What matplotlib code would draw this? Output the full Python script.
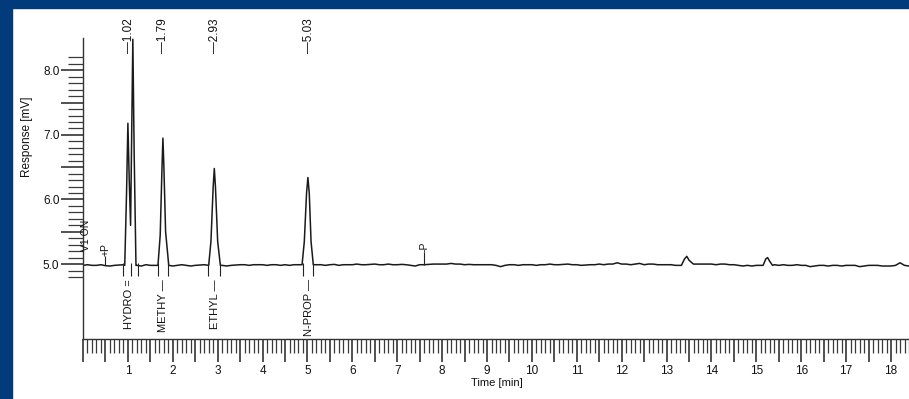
import numpy as np
import matplotlib
matplotlib.use("Agg")
import matplotlib.pyplot as plt
from matplotlib.patches import Rectangle
from matplotlib.ticker import FixedLocator, FuncFormatter

plt.rcParams['font.family'] = ['Liberation Sans', 'DejaVu Sans']

# baseline readings every 0.1 min, 0.0 .. 18.4 min (mV)
baseline_v = [
    4.98, 4.99, 4.98, 4.98, 4.99, 4.975, 4.97, 4.98, 4.985, 4.99,
    4.98, 4.98, 4.98, 4.97, 4.99, 4.98, 4.98, 4.98, 4.98, 4.98,
    4.97, 4.98, 4.99, 4.98, 4.97, 4.98, 4.985, 4.99, 4.98, 4.98,
    4.98, 4.98, 4.97, 4.98, 4.985, 4.99, 4.99, 4.98, 4.99, 4.99,
    4.99, 4.98, 4.99, 4.99, 4.98, 4.99, 4.98, 4.99, 4.99, 4.98,
    4.98, 4.98, 4.99, 4.99, 4.98, 4.99, 4.995, 4.98, 4.99, 4.99,
    4.99, 5.00, 4.99, 4.99, 4.995, 5.00, 4.99, 4.99, 5.00, 4.99,
    4.99, 4.995, 4.99, 4.98, 4.97, 4.99, 4.99, 4.995, 5.00, 5.00,
    5.00, 5.00, 5.01, 5.00, 5.00, 4.99, 4.995, 4.99, 4.99, 4.99,
    4.99, 4.99, 4.98, 4.96, 4.98, 4.99, 4.99, 4.98, 4.99, 4.99,
    4.99, 4.98, 4.99, 4.99, 5.00, 4.99, 4.99, 4.995, 5.00, 4.99,
    4.99, 4.98, 4.985, 4.99, 4.99, 5.00, 4.99, 5.00, 5.00, 5.02,
    5.00, 5.00, 4.99, 5.00, 5.01, 4.99, 5.00, 5.00, 4.99, 4.99,
    4.99, 4.99, 4.98, 4.98, 5.00, 5.00, 5.00, 5.00, 5.00, 5.00,
    5.00, 4.99, 5.00, 5.00, 4.99, 4.99, 4.98, 4.97, 4.98, 4.97,
    4.98, 4.98, 4.98, 4.98, 4.99, 4.98, 4.99, 4.98, 4.98, 4.99,
    4.98, 4.98, 4.96, 4.97, 4.98, 4.98, 4.97, 4.98, 4.98, 4.97,
    4.98, 4.98, 4.98, 4.96, 4.97, 4.98, 4.98, 4.98, 4.97, 4.97,
    4.97, 4.98, 5.02, 4.98, 4.97,
]

# peak outlines (min, mV)
hydro_t = [0.93, 0.97, 1.00, 1.03, 1.06, 1.09, 1.11, 1.14, 1.18]
hydro_v = [4.98, 6.10, 7.18, 6.30, 5.60, 7.40, 8.48, 6.70, 4.98]
methy_t = [1.67, 1.72, 1.76, 1.78, 1.80, 1.84, 1.91]
methy_v = [4.98, 5.45, 6.50, 6.95, 6.55, 5.50, 4.98]
ethyl_t = [2.80, 2.85, 2.90, 2.925, 2.95, 3.00, 3.06]
ethyl_v = [4.98, 5.35, 6.20, 6.48, 6.20, 5.35, 4.98]
nprop_t = [4.88, 4.93, 4.98, 5.01, 5.04, 5.08, 5.13]
nprop_v = [4.99, 5.35, 6.10, 6.34, 6.10, 5.35, 4.99]
bump1_t = [13.33, 13.40, 13.45, 13.50, 13.58]
bump1_v = [4.98, 5.08, 5.12, 5.06, 5.01]
bump2_t = [15.15, 15.21, 15.25, 15.30, 15.36]
bump2_v = [4.98, 5.08, 5.10, 5.04, 4.98]

# peak annotations
compound_rt = [1.02, 1.79, 2.93, 5.03]
compound_names = ['HYDRO =', 'METHY \u2014', 'ETHYL \u2014', 'N-PROP \u2014']
rt_labels = ['\u20141.02', '\u20141.79', '\u20142.93', '\u20145.03']
integ_marks = [0.89, 1.07, 1.22, 1.67, 1.90, 2.79, 3.05, 4.89, 5.13]
event_t = [0.50, 7.60]
event_labels = ['+P', '-P']
event_top = [5.13, 5.18]

base_t = np.arange(len(baseline_v)) * 0.1
peaks = [(hydro_t, hydro_v), (methy_t, methy_v), (ethyl_t, ethyl_v),
         (nprop_t, nprop_v), (bump1_t, bump1_v), (bump2_t, bump2_v)]

keep = np.ones(len(base_t), dtype=bool)
for pt, pv in peaks:
    keep &= ~((base_t >= pt[0] - 1e-9) & (base_t <= pt[-1] + 1e-9))
tt = list(base_t[keep])
vv = list(np.array(baseline_v)[keep])
for pt, pv in peaks:
    tt += pt
    vv += pv
order = np.argsort(tt)
tt = np.array(tt)[order]
vv = np.array(vv)[order]

fig = plt.figure(figsize=(9.09, 3.99), dpi=100)
fig.patch.set_facecolor('white')
blue = '#023b7c'
fig.patches.append(Rectangle((0, 1 - 8 / 399), 1, 8 / 399, transform=fig.transFigure,
                             color=blue, zorder=10))
fig.patches.append(Rectangle((0, 0), 12 / 909, 1, transform=fig.transFigure,
                             color=blue, zorder=10))

ax = fig.add_axes([83 / 909, 60 / 399, 826 / 909, 301 / 399])
ax.plot(tt, vv, color='#1a1a1a', lw=1.1)

ax.set_xlim(0, 18.4)
ax.set_ylim(3.84, 8.5)
for s in ['top', 'right']:
    ax.spines[s].set_visible(False)
for s in ['left', 'bottom']:
    ax.spines[s].set_color('#333333')
    ax.spines[s].set_linewidth(1.0)

ink = '#222222'
ax.xaxis.set_major_locator(FixedLocator(np.arange(0, 18.45, 0.5)))
ax.xaxis.set_minor_locator(FixedLocator(np.arange(0, 18.45, 0.1)))
ax.xaxis.set_major_formatter(FuncFormatter(
    lambda v, p: '%d' % round(v) if abs(v - round(v)) < 1e-6 and round(v) > 0 else ''))
ax.yaxis.set_major_locator(FixedLocator(np.arange(5.0, 8.05, 0.5)))
ax.yaxis.set_minor_locator(FixedLocator(np.arange(4.8, 8.25, 0.1)))
ax.yaxis.set_major_formatter(FuncFormatter(
    lambda v, p: '%.1f' % v if abs(v - round(v)) < 1e-6 else ''))
ax.tick_params(axis='x', which='major', length=16.5, width=1.1, color=ink,
               labelsize=8.5, pad=2, labelcolor='#111111')
ax.tick_params(axis='x', which='minor', length=10, width=0.9, color='#3a3a3a')
ax.tick_params(axis='y', which='major', length=16, width=1.1, color=ink,
               labelsize=8.5, pad=1, labelcolor='#111111')
ax.tick_params(axis='y', which='minor', length=10.5, width=0.9, color='#3a3a3a')

# integration marks under the peaks
ax.vlines(integ_marks, 4.81, 5.02, color=ink, lw=0.8)

# compound names and retention times
for rt, name, lab in zip(compound_rt, compound_names, rt_labels):
    ax.text(rt, 0.199, name, transform=ax.get_xaxis_transform(), rotation=90,
            ha='center', va='top', fontsize=8, color='#111111')
    ax.text(rt, 0.95, lab, transform=ax.get_xaxis_transform(), rotation=90,
            ha='center', va='bottom', fontsize=8.5, color='#111111', clip_on=False)

# events
for et, el, top in zip(event_t, event_labels, event_top):
    ax.vlines(et, 4.99, top, color=ink, lw=0.8)
    ax.text(et, top, el, rotation=90, ha='center', va='bottom', fontsize=7.5,
            color='#111111')
ax.text(0.07, 5.21, 'V1 ON', rotation=90, ha='center', va='bottom', fontsize=7.5,
        color='#111111')

fig.text(497 / 909, 1 - 383 / 399, 'Time [min]', ha='center', va='center',
         fontsize=8, color='#111111')
fig.text(27 / 909, 1 - 137 / 399, 'Response [mV]', ha='center', va='center',
         rotation=90, fontsize=8.5, color='#111111')

fig.savefig('out.png', dpi=100)
